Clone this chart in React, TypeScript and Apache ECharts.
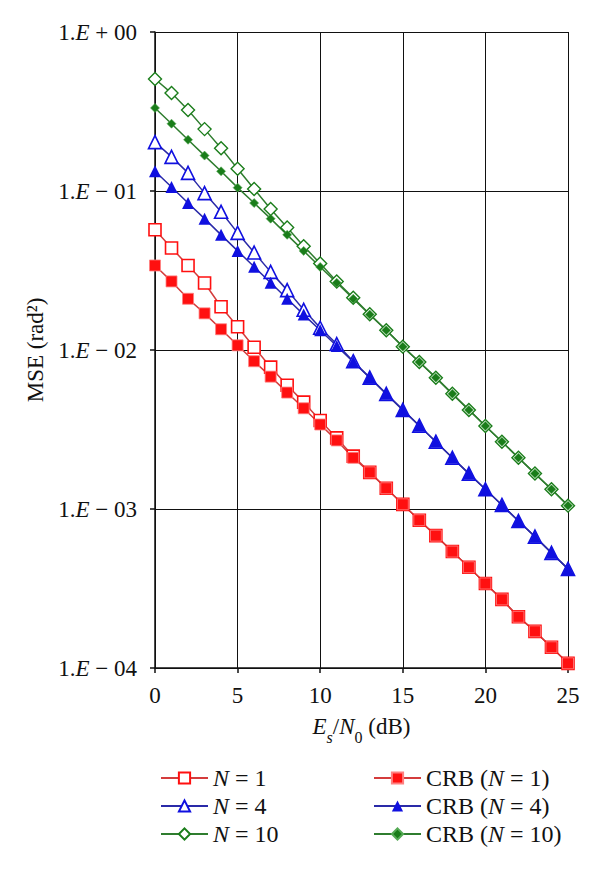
import React, { useEffect, useRef } from "react";
import * as echarts from "echarts";

const snr = [0,1,2,3,4,5,6,7,8,9,10,11,12,13,14,15,16,17,18,19,20,21,22,23,24,25];

const mseN1 = [0.057,0.0438,0.034,0.0264,0.0187,0.014,0.0104,0.0078,0.006,0.0047,0.0036,0.0028,0.00215,0.0017,0.00135,0.00107,0.00085,0.00068,0.00054,0.00043,0.00034,0.00027,0.00021,0.00017,0.000135,0.000107];
const mseN4 = [0.203,0.164,0.13,0.097,0.074,0.0545,0.041,0.031,0.0238,0.0179,0.0138,0.0109,0.0085,0.0067,0.0053,0.0042,0.00334,0.00265,0.0021,0.00167,0.00133,0.00106,0.00084,0.00067,0.00053,0.00042];
const mseN10 = [0.506,0.413,0.323,0.245,0.186,0.138,0.103,0.077,0.059,0.045,0.035,0.027,0.0213,0.0168,0.0133,0.0105,0.0084,0.0067,0.0053,0.0042,0.00333,0.00265,0.0021,0.00167,0.00133,0.00105];
const crbN1 = [0.034,0.027,0.021,0.017,0.0135,0.0107,0.0085,0.0068,0.0054,0.0043,0.0034,0.0027,0.0021,0.0017,0.00135,0.00107,0.00085,0.00068,0.00054,0.00043,0.00034,0.00027,0.00021,0.00017,0.000135,0.000107];
const crbN4 = [0.133,0.106,0.084,0.067,0.053,0.042,0.0334,0.0265,0.021,0.0167,0.0133,0.0106,0.0084,0.0067,0.0053,0.0042,0.00334,0.00265,0.0021,0.00167,0.00133,0.00106,0.00084,0.00067,0.00053,0.00042];
const crbN10 = [0.333,0.265,0.21,0.167,0.133,0.105,0.084,0.067,0.053,0.042,0.0333,0.0265,0.021,0.0167,0.0133,0.0105,0.0084,0.0067,0.0053,0.0042,0.00333,0.00265,0.0021,0.00167,0.00133,0.00105];

const yTickLabels: Record<string, string> = {
  "0": "{a|1.}{e|E}{a| + 00}",
  "-1": "{a|1.}{e|E}{a| \u2212 01}",
  "-2": "{a|1.}{e|E}{a| \u2212 02}",
  "-3": "{a|1.}{e|E}{a| \u2212 03}",
  "-4": "{a|1.}{e|E}{a| \u2212 04}",
};

const seriesNames = ["N = 1", "N = 4", "N = 10", "CRB (N = 1)", "CRB (N = 4)", "CRB (N = 10)"];
const legendLabels: Record<string, string> = {
  "N = 1": "{i|N}{a| = 1}",
  "N = 4": "{i|N}{a| = 4}",
  "N = 10": "{i|N}{a| = 10}",
  "CRB (N = 1)": "{a|CRB (}{i|N}{a| = 1)}",
  "CRB (N = 4)": "{a|CRB (}{i|N}{a| = 4)}",
  "CRB (N = 10)": "{a|CRB (}{i|N}{a| = 10)}",
};

const FONT = "Liberation Serif";
const FS = 23;
const LFS = 24;
const RED = "#ff1010";
const RED_LINE = "#d43c3c";
const BLUE = "#1010e0";
const BLUE_LINE = "#2a2aa8";
const GREEN = "#1a7d1a";
const GREEN_LINE = "#2f7d2f";

export default function App() {
  const ref = useRef<HTMLDivElement>(null);
  useEffect(() => {
    if (!ref.current) return;
    const chart = echarts.init(ref.current, undefined, { renderer: "svg" });
    const mk = (name: string, data: number[], symbol: string, size: number, fill: string, border: string, line: string, bw: number) => ({
      name,
      type: "line",
      data: snr.map((x, i) => [x, data[i]]),
      symbol,
      symbolSize: size,
      showAllSymbol: true,
      lineStyle: { color: line, width: 1.5 },
      itemStyle: { color: fill, borderColor: border, borderWidth: bw },
      z: 3,
    });
    const richText = {
      i: { fontFamily: FONT, fontStyle: "italic", fontSize: LFS, color: "#111" },
      a: { fontFamily: FONT, fontSize: LFS, color: "#111" },
    };
    const legendCommon = {
      orient: "vertical",
      top: 761,
      itemWidth: 47,
      itemHeight: 14,
      itemGap: 4,
      formatter: (n: string) => legendLabels[n],
      textStyle: { fontFamily: FONT, fontSize: LFS, color: "#111", rich: richText },
    };
    chart.setOption({
      animation: false,
      backgroundColor: "#fff",
      textStyle: { fontFamily: FONT, fontSize: FS },
      grid: { left: 155, right: 32, top: 32, bottom: 202, containLabel: false },
      xAxis: {
        type: "value",
        min: 0,
        max: 25,
        interval: 5,
        axisLine: { lineStyle: { color: "#111", width: 1.5 } },
        axisTick: { show: true, length: 5, lineStyle: { color: "#111", width: 1.5 } },
        splitLine: { show: true, lineStyle: { color: "#111", width: 1 } },
        axisLabel: { fontFamily: FONT, fontSize: FS, color: "#111", margin: 16 },
        name: "{i|E}{si|s}{a|/}{i|N}{sb|0}{a| (dB)}",
        nameLocation: "middle",
        nameGap: 46,
        nameTextStyle: {
          fontFamily: FONT,
          fontSize: FS,
          color: "#111",
          rich: {
            i: { fontFamily: FONT, fontStyle: "italic", fontSize: FS, color: "#111", verticalAlign: "bottom", lineHeight: 24 },
            a: { fontFamily: FONT, fontSize: FS, color: "#111", verticalAlign: "bottom", lineHeight: 24 },
            si: { fontFamily: FONT, fontStyle: "italic", fontSize: 16, color: "#111", verticalAlign: "bottom", lineHeight: 16, padding: [0, 0, -7, 0] },
            sb: { fontFamily: FONT, fontSize: 16, color: "#111", verticalAlign: "bottom", lineHeight: 16, padding: [0, 0, -7, 0] },
          },
        },
      },
      yAxis: {
        type: "log",
        logBase: 10,
        min: 0.0001,
        max: 1,
        axisLine: { show: true, lineStyle: { color: "#111", width: 1.5 } },
        axisTick: { show: true, length: 5, lineStyle: { color: "#111", width: 1.5 } },
        minorTick: { show: false },
        splitLine: { show: true, lineStyle: { color: "#111", width: 1 } },
        axisLabel: {
          margin: 18,
          fontFamily: FONT,
          fontSize: FS,
          formatter: (v: number) => yTickLabels[String(Math.round(Math.log10(v)))] ?? "",
          rich: {
            a: { fontFamily: FONT, fontSize: FS, color: "#111" },
            e: { fontFamily: FONT, fontStyle: "italic", fontSize: FS, color: "#111" },
          },
        },
        name: "MSE (rad\u00b2)",
        nameLocation: "middle",
        nameGap: 108,
        nameRotate: 90,
        nameTextStyle: { fontFamily: FONT, fontSize: FS, color: "#111" },
      },
      legend: [
        { ...legendCommon, data: seriesNames.slice(0, 3), left: 155 },
        { ...legendCommon, data: seriesNames.slice(3), left: 368 },
      ],
      series: [
        mk(seriesNames[0], mseN1, "rect", 12, "#fff", RED, RED_LINE, 1.6),
        mk(seriesNames[1], mseN4, "triangle", 13, "#fff", BLUE, BLUE_LINE, 1.6),
        mk(seriesNames[2], mseN10, "diamond", 13, "#fff", GREEN, GREEN_LINE, 1.4),
        mk(seriesNames[3], crbN1, "rect", 11, RED, "#ff8080", RED_LINE, 0.8),
        mk(seriesNames[4], crbN4, "triangle", 12, BLUE, BLUE, BLUE_LINE, 0),
        mk(seriesNames[5], crbN10, "diamond", 9, GREEN, "#55aa55", GREEN_LINE, 0.6),
      ],
    });
    return () => chart.dispose();
  }, []);
  return <div ref={ref} style={{ width: 600, height: 870, position: "absolute", left: 0, top: 0 }} />;
}
